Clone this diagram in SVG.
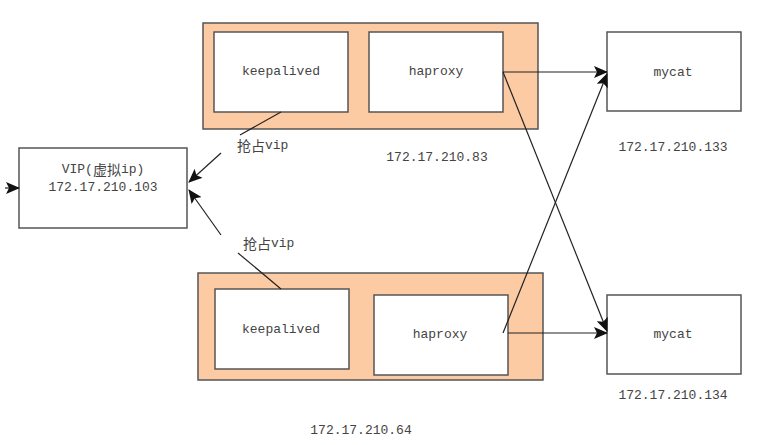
<svg xmlns="http://www.w3.org/2000/svg" width="766" height="445" viewBox="0 0 766 445">
<defs>
<marker id="ah" markerUnits="userSpaceOnUse" markerWidth="14" markerHeight="12" refX="13" refY="6" orient="auto">
<path d="M0,0 L14,6 L0,12 L3,6 z" fill="#111"/>
</marker>
<style>
.grp{fill:#FCCBA4;stroke:#555;stroke-width:1.5}
.box{fill:#fff;stroke:#555;stroke-width:1.5}
.t{font-family:"Liberation Mono","Noto Sans CJK SC",monospace;font-size:13px;fill:#444;text-anchor:middle;dominant-baseline:central}
.cjk{font-family:"Noto Sans CJK SC",sans-serif;font-size:14px}
.ln{stroke:#222;stroke-width:1.2;fill:none}
.la{stroke:#222;stroke-width:1.2;fill:none;marker-end:url(#ah)}
</style>
</defs>
<rect width="766" height="445" fill="#fff"/>
<g id="server83">
<rect class="grp" x="203" y="23" width="335" height="106"/>
<text class="t" x="437" y="157">172.17.210.83</text>
</g>
<g id="keepalived83">
<rect class="box" x="214" y="32" width="134" height="80"/>
<text class="t" x="281" y="71">keepalived</text>
</g>
<g id="haproxy83">
<rect class="box" x="369" y="32" width="134" height="80"/>
<text class="t" x="436" y="71">haproxy</text>
</g>
<g id="server64">
<rect class="grp" x="198" y="273" width="345" height="107"/>
<text class="t" x="361" y="430">172.17.210.64</text>
</g>
<g id="keepalived64">
<rect class="box" x="215" y="289" width="134" height="80"/>
<text class="t" x="281" y="329">keepalived</text>
</g>
<g id="haproxy64">
<rect class="box" x="374" y="295" width="134" height="80"/>
<text class="t" x="440" y="334">haproxy</text>
</g>
<g id="mycat133">
<rect class="box" x="607" y="32" width="134" height="79"/>
<text class="t" x="673" y="72">mycat</text>
<text class="t" x="673" y="147">172.17.210.133</text>
</g>
<g id="mycat134">
<rect class="box" x="607" y="295" width="134" height="79"/>
<text class="t" x="673" y="334">mycat</text>
<text class="t" x="673" y="395">172.17.210.134</text>
</g>
<g id="vip">
<rect class="box" x="19" y="148" width="168" height="80"/>
<text class="t" x="103" y="169">VIP(<tspan class="cjk">虚拟</tspan>ip)</text>
<text class="t" x="103" y="187">172.17.210.103</text>
</g>
<g id="connectors">
<line class="la" x1="503" y1="72" x2="607" y2="72"/>
<line class="la" x1="503" y1="72" x2="607" y2="331"/>
<line class="la" x1="508" y1="333" x2="607" y2="333"/>
<line class="la" x1="503" y1="333" x2="607" y2="74"/>
<line class="la" x1="5" y1="188" x2="19" y2="188"/>
<line class="ln" x1="281" y1="112" x2="240" y2="135"/>
<line class="la" x1="221" y1="153" x2="189" y2="182"/>
<line class="la" x1="221" y1="235" x2="189" y2="190"/>
<line class="ln" x1="238" y1="253" x2="281" y2="289"/>
<text class="t" x="237" y="145" style="text-anchor:start"><tspan class="cjk">抢占</tspan>vip</text>
<text class="t" x="243" y="243" style="text-anchor:start"><tspan class="cjk">抢占</tspan>vip</text>
</g>
</svg>
